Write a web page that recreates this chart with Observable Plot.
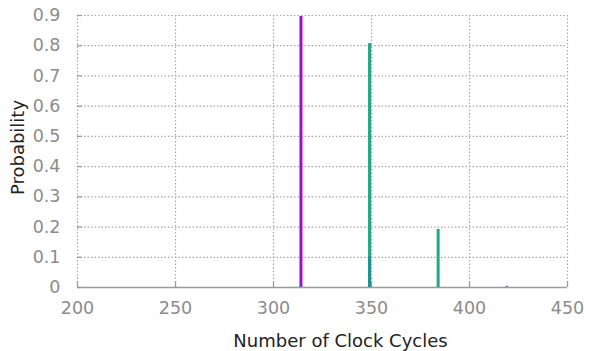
<!DOCTYPE html>
<html>
<head>
<meta charset="utf-8">
<script src="https://cdn.jsdelivr.net/npm/d3@7"></script>
<script src="https://cdn.jsdelivr.net/npm/@observablehq/plot@0.6"></script>
<style>
  html, body { margin: 0; padding: 0; background: #fff; }
</style>
</head>
<body>
<div id="chart"></div>
<script>
// Tick values and labels
const xTicks = [200, 250, 300, 350, 400, 450];
const yTicks = [0, 0.1, 0.2, 0.3, 0.4, 0.5, 0.6, 0.7, 0.8, 0.9];
const yTickLabels = ["0", "0.1", "0.2", "0.3", "0.4", "0.5", "0.6", "0.7", "0.8", "0.9"];

// Series (clock cycles and probabilities)
const purpleCycles = [314];
const purpleProb = [0.897];
const greenCycles = [349, 384];
const greenProb = [0.807, 0.192];
const tealCycles = [314, 349, 419];
const tealProb = [0.003, 0.103, 0.004];

const xLabel = "Number of Clock Cycles";
const yLabel = "Probability";

const purple = purpleCycles.map((c, i) => ({c, p: purpleProb[i]}));
const green = greenCycles.map((c, i) => ({c, p: greenProb[i]}));
const teal = tealCycles.map((c, i) => ({c, p: tealProb[i]}));

const gridColor = "#a8a8a8";
const axisColor = "#9a9a9a";
const labelColor = "#8c8c8c";

const chart = Plot.plot({
  width: 590,
  height: 351,
  marginLeft: 77,
  marginRight: 23,
  marginTop: 15,
  marginBottom: 64,
  style: {fontFamily: "DejaVu Sans", fontSize: "17px", background: "#fff", overflow: "visible"},
  x: {domain: [200, 450]},
  y: {domain: [0, 0.9]},
  marks: [
    Plot.gridX(xTicks, {stroke: gridColor, strokeOpacity: 1, strokeDasharray: "1.5,2", strokeWidth: 1.2}),
    Plot.gridY(yTicks, {stroke: gridColor, strokeOpacity: 1, strokeDasharray: "1.5,2", strokeWidth: 1.2}),
    Plot.ruleY([0], {stroke: axisColor, strokeWidth: 1.5}),
    Plot.ruleX(xTicks, {x: d => d, y1: 0, y2: 0.02, stroke: axisColor, strokeWidth: 1.2}),
    Plot.ruleY(yTicks, {y: d => d, x1: 200, x2: 202.5, stroke: axisColor, strokeWidth: 1.2}),
    Plot.ruleX(purple, {x: "c", y1: 0, y2: "p", stroke: "#9a10d8", strokeWidth: 3}),
    Plot.ruleX(green, {x: "c", y1: 0, y2: "p", stroke: "#22a884", strokeWidth: 3}),
    Plot.ruleX(teal, {x: "c", y1: 0, y2: "p", stroke: "#1f8a98", strokeWidth: 3, strokeOpacity: 0.75}),
    Plot.axisX({ticks: xTicks, tickSize: 0, tickPadding: 14, fill: labelColor, label: null, fontSize: 17.5}),
    Plot.axisY({ticks: yTicks, tickFormat: (d, i) => yTickLabels[yTicks.indexOf(d)], tickSize: 0, tickPadding: 17, fill: labelColor, label: null, fontSize: 17.5}),
    Plot.text([xLabel], {frameAnchor: "bottom", textAnchor: "middle", text: d => d, dx: 18, dy: 59, fontSize: 18, fill: "#222"}),
    Plot.text([yLabel], {frameAnchor: "left", textAnchor: "middle", text: d => d, dx: -59, dy: -4, rotate: -90, fontSize: 18, fill: "#222"})
  ]
});
document.getElementById("chart").appendChild(chart);
</script>
</body>
</html>
